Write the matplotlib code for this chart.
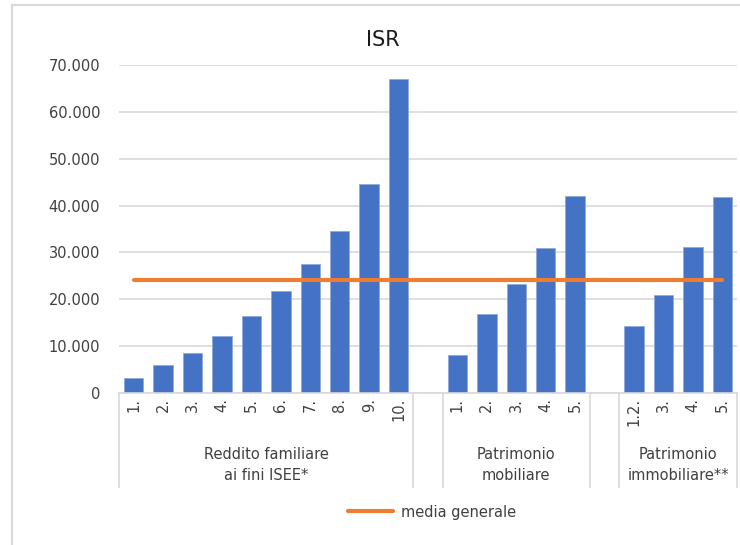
import matplotlib.pyplot as plt
from matplotlib.lines import Line2D
from matplotlib.patches import Rectangle
import matplotlib.transforms as mtransforms

# data
group_names = ['Reddito familiare\nai fini ISEE*', '', 'Patrimonio\nmobiliare', '', 'Patrimonio\nimmobiliare**']
group_ticks = [
    ['1.', '2.', '3.', '4.', '5.', '6.', '7.', '8.', '9.', '10.'],
    [''],
    ['1.', '2.', '3.', '4.', '5.'],
    [''],
    ['1.2.', '3.', '4.', '5.'],
]
group_values = [
    [3100, 5900, 8500, 12250, 16450, 21800, 27600, 34600, 44550, 67100],
    [None],
    [8050, 16850, 23200, 31000, 42000],
    [None],
    [14250, 20850, 31200, 41800],
]
media_generale = 24200

bar_color = '#4472C4'
line_color = '#ED7D31'
grid_color = '#D9D9D9'
text_color = '#404040'

W, H = 740, 545
fig = plt.figure(figsize=(W / 100, H / 100), dpi=100)
plt.rcParams['font.family'] = 'DejaVu Sans'

# chart border (cut off on the right and bottom like the screenshot)
fig.patches.append(Rectangle((12 / W, -0.1), 1.2, 1.1 - 5 / H, transform=fig.transFigure,
                             fill=False, edgecolor=grid_color, linewidth=1.5))

left, right, top, bottom = 119, 737, 65, 393
ax = fig.add_axes([left / W, 1 - bottom / H, (right - left) / W, (bottom - top) / H])

# flatten categories
x_pos = []
labels = []
vals = []
bounds = [-0.5]
centers = []
i = 0
for ticks, values in zip(group_ticks, group_values):
    start = i
    for t, v in zip(ticks, values):
        x_pos.append(i)
        labels.append(t)
        vals.append(v)
        i += 1
    bounds.append(i - 0.5)
    centers.append((start + i - 1) / 2)

bx = [x for x, v in zip(x_pos, vals) if v is not None]
bv = [v for v in vals if v is not None]
ax.bar(bx, bv, width=0.66, color=bar_color, edgecolor='#8FAADC', linewidth=0.6, zorder=2)
ax.plot(x_pos, [media_generale] * len(x_pos), color=line_color, linewidth=3,
        solid_capstyle='round', zorder=3)

ax.set_xlim(-0.5, len(x_pos) - 0.5)
ax.set_ylim(0, 70000)
ax.set_yticks(range(0, 70001, 10000))
ax.set_yticklabels(['0' if v == 0 else f'{v // 1000}.000' for v in range(0, 70001, 10000)])
ax.yaxis.grid(True, color=grid_color, linewidth=1.2, zorder=0)
ax.set_axisbelow(True)
for s in ['top', 'right', 'left']:
    ax.spines[s].set_visible(False)
ax.spines['bottom'].set_color(grid_color)
ax.spines['bottom'].set_linewidth(1.2)
ax.tick_params(axis='y', length=0, pad=13.5, labelsize=10.5, labelcolor=text_color)
ax.set_xticks(x_pos)
ax.set_xticklabels(labels, rotation=90)
ax.tick_params(axis='x', length=0, pad=3.5, labelsize=10.5, labelcolor=text_color)

# multi-level category axis
trans = mtransforms.blended_transform_factory(ax.transData, ax.transAxes)
sep_bottom = -(487 - bottom) / (bottom - top)
for b in bounds:
    ax.add_line(Line2D([b, b], [0, sep_bottom], transform=trans, color=grid_color,
                       linewidth=1.2, clip_on=False))
for c, name in zip(centers, group_names):
    ax.text(c, -(465 - bottom) / (bottom - top), name, transform=trans, ha='center', va='center',
            fontsize=10.5, color=text_color, linespacing=1.45)

fig.text(383 / W, 1 - 40 / H, 'ISR', ha='center', va='center', fontsize=15, color='#1a1a1a')

handle = Line2D([], [], color=line_color, linewidth=3, solid_capstyle='round')
fig.legend([handle], ['media generale'], loc='center', bbox_to_anchor=(432 / W, 1 - 512 / H),
           frameon=False, fontsize=10.5, handlelength=3.1, handletextpad=0.5,
           labelcolor=text_color)

fig.savefig('out.png', dpi=100)
